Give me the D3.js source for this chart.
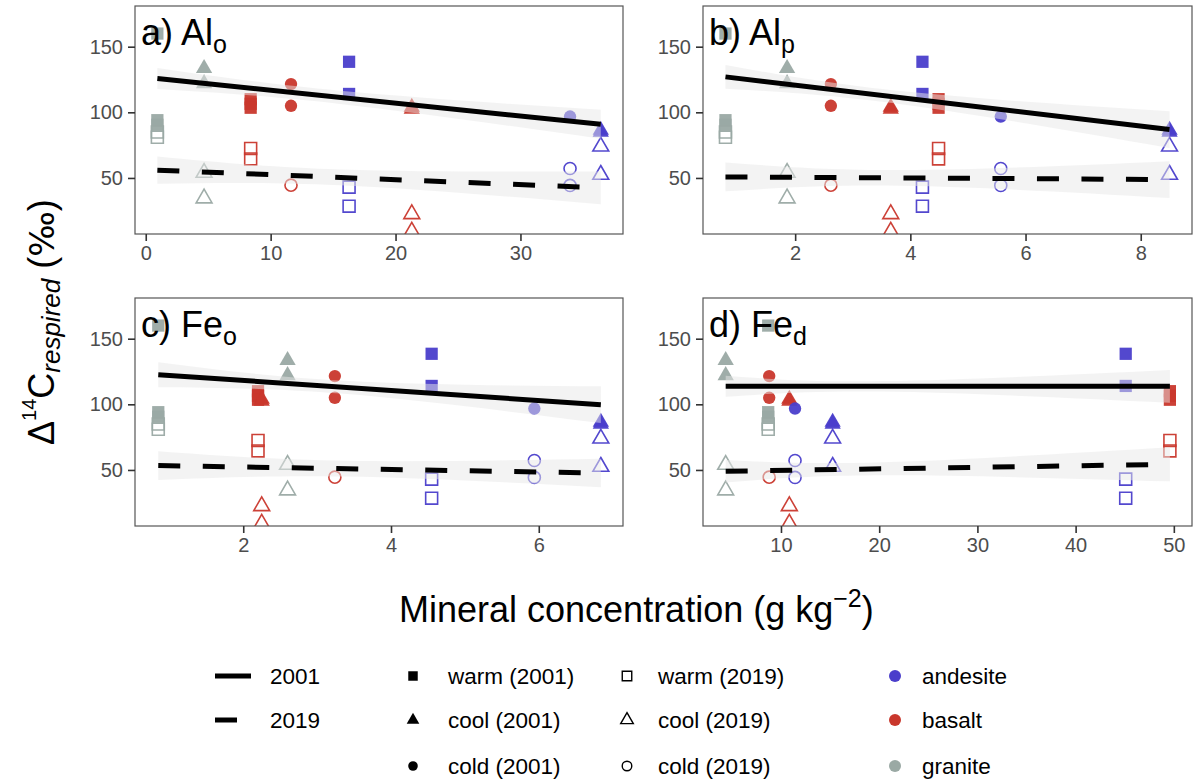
<!DOCTYPE html>
<html>
<head>
<meta charset="utf-8">
<script src="https://cdn.jsdelivr.net/npm/d3@7"></script>
<style>
  body { margin: 0; background: #fff; }
  text { font-family: "Liberation Sans", Arial, Helvetica, sans-serif; }
</style>
</head>
<body>
<div id="chart"></div>
<script>
// sites (rock x climate); one mineral concentration per site for each panel
var siteRock    = ["granite", "granite", "basalt", "basalt", "basalt", "andesite", "andesite", "andesite"];
var siteClimate = ["warm", "cool", "warm", "cool", "cold", "warm", "cool", "cold"];
var alo = [0.93, 4.67, 8.4, 21.3, 11.63, 16.28, 36.43, 33.97];
var alp = [0.79, 1.86, 4.49, 3.66, 2.62, 4.21, 8.5, 5.57];
var feo = [0.85, 2.6, 2.2, 2.25, 3.24, 4.55, 6.84, 5.94];
var fed = [8.7, 4.37, 49.6, 10.85, 8.8, 45.1, 15.26, 11.43];

// samples: site index, year, delta 14C respired
var sampleSite = [0, 0, 0, 0, 0,   1, 1, 1, 1,   2, 2, 2, 2, 2,   3, 3, 3, 3,   4, 4, 4,   5, 5, 5, 5,   6, 6, 6, 6,   7, 7, 7];
var sampleYear = [2001, 2001, 2001, 2019, 2019,   2001, 2001, 2019, 2019,   2001, 2001, 2001, 2019, 2019,
                  2001, 2001, 2019, 2019,   2001, 2001, 2019,   2001, 2001, 2019, 2019,
                  2001, 2001, 2019, 2019,   2001, 2019, 2019];
var sampleD14C = [160, 94, 90.5, 85, 81,   133.5, 122, 54, 34.5,   110, 106.5, 103.5, 72.5, 64.5,
                  104, 102.5, 22.5, 9.2,   121.5, 105, 44.5,   138.5, 114, 43, 28.5,
                  86.5, 85, 74, 52.5,   96.8, 57.2, 44.3];

// panels
var panelLetter = ["a)", "b)", "c)", "d)"];
var panelMain   = ["Al", "Al", "Fe", "Fe"];
var panelSub    = ["o", "p", "o", "d"];
var panelX      = [alo, alp, feo, fed];
var panelTicks  = [[0, 10, 20, 30], [2, 4, 6, 8], [2, 4, 6], [10, 20, 30, 40, 50]];
var panelDomain = [[-0.86, 38.21], [0.40, 8.89], [0.535, 7.14], [2.06, 51.85]];
var yTicks = [50, 100, 150];

// lm fits: line ends and ribbon half widths (start, centre, end)
var fit2001 = [[125.8, 90.9], [127, 86.9], [122.6, 99.7], [113.7, 113.7]];
var fit2019 = [[55.9, 42.5], [50.8, 48.8], [53.3, 47.7], [49, 54.3]];
var ci2001 = [[8, 5, 11], [9, 5, 14], [9.5, 5, 14], [8, 4, 12.5]];
var ci2019 = [[10.4, 6, 12.5], [11, 6, 14], [11, 6, 10.8], [8.6, 5, 13]];

// legend
var yearLabels = ["2001", "2019"];
var climates = ["warm", "cool", "cold"];
var rockLabels = ["andesite", "basalt", "granite"];

var rockColor = {andesite: "#4a3ecb", basalt: "#c9372c", granite: "#9aa9a4"};
var climateShape = {warm: d3.symbolSquare, cool: d3.symbolTriangle, cold: d3.symbolCircle};
var shapeSize = {warm: 150, cool: 115, cold: 120};

var svgWidth = 1198;
var svgHeight = 784;

var svg = d3.select("#chart")
  .append("svg")
  .attr("width", svgWidth)
  .attr("height", svgHeight);

var cols = [[135, 623], [703, 1192]];
var rows = [[6, 234], [298, 526]];

var samples = sampleSite.map(function(s, i) {
  return {site: s, year: sampleYear[i], y: sampleD14C[i],
          rock: siteRock[s], climate: siteClimate[s]};
});

panelX.forEach(function(xs, p) {
  var col = cols[p % 2];
  var row = rows[Math.floor(p / 2)];
  var x = d3.scaleLinear().domain(panelDomain[p]).range(col);
  var y = d3.scaleLinear().domain([7.3, 181]).range([row[1], row[0]]);

  var g = svg.append("g");
  var clipId = "clip" + p;
  g.append("clipPath").attr("id", clipId)
    .append("rect")
    .attr("x", col[0]).attr("y", row[0])
    .attr("width", col[1] - col[0]).attr("height", row[1] - row[0]);

  var plot = g.append("g").attr("clip-path", "url(#" + clipId + ")");

  // points
  plot.selectAll("path.pt")
    .data(samples)
    .enter()
    .append("path")
    .attr("class", "pt")
    .attr("transform", function(d) { return "translate(" + x(xs[d.site]) + "," + y(d.y) + ")"; })
    .attr("d", function(d) {
      var size = shapeSize[d.climate] * (d.year === 2019 ? 0.95 : 1);
      return d3.symbol().type(climateShape[d.climate]).size(size)();
    })
    .attr("fill", function(d) { return d.year === 2001 ? rockColor[d.rock] : "none"; })
    .attr("stroke", function(d) { return d.year === 2019 ? rockColor[d.rock] : "none"; })
    .attr("stroke-width", 1.6)
    .attr("opacity", 0.95);

  // smooth ribbons and lines
  var xExt = d3.extent(xs);
  var xMid = d3.mean(samples, function(d) { return xs[d.site]; });
  [[fit2001[p], ci2001[p], null], [fit2019[p], ci2019[p], "22,22.5"]].forEach(function(f) {
    var fit = f[0], ci = f[1];
    var line = d3.scaleLinear().domain(xExt).range(fit);
    var pts = [xExt[0], xMid, xExt[1]].map(function(v, i) {
      return {x: v, lo: line(v) - ci[i], hi: line(v) + ci[i]};
    });
    plot.append("path")
      .datum(pts)
      .attr("d", d3.area()
        .x(function(d) { return x(d.x); })
        .y0(function(d) { return y(d.lo); })
        .y1(function(d) { return y(d.hi); })
        .curve(d3.curveNatural))
      .attr("fill", "#e8e8e8")
      .attr("opacity", 0.5);
    plot.append("path")
      .datum(xExt)
      .attr("d", d3.line()
        .x(function(d) { return x(d); })
        .y(function(d) { return y(line(d)); }))
      .attr("fill", "none")
      .attr("stroke", "#000")
      .attr("stroke-width", 5)
      .attr("stroke-dasharray", f[2]);
  });

  // panel label
  var lab = g.append("text")
    .attr("x", col[0] + 6)
    .attr("y", row[0] + 39)
    .attr("font-size", 36)
    .attr("fill", "#000");
  lab.append("tspan").text(panelLetter[p] + " " + panelMain[p]);
  lab.append("tspan").attr("dy", 8).attr("font-size", 25).text(panelSub[p]);

  // border
  g.append("rect")
    .attr("x", col[0]).attr("y", row[0])
    .attr("width", col[1] - col[0]).attr("height", row[1] - row[0])
    .attr("fill", "none")
    .attr("stroke", "#555")
    .attr("stroke-width", 1.2);

  // axes
  var xAxis = g.append("g")
    .attr("transform", "translate(0," + row[1] + ")")
    .call(d3.axisBottom(x).tickValues(panelTicks[p]).tickFormat(d3.format("d")).tickSize(7).tickPadding(5));
  var yAxis = g.append("g")
    .attr("transform", "translate(" + col[0] + ",0)")
    .call(d3.axisLeft(y).tickValues(yTicks).tickFormat(d3.format("d")).tickSize(7).tickPadding(5));
  [xAxis, yAxis].forEach(function(a) {
    a.select(".domain").remove();
    a.selectAll("line").attr("stroke", "#333").attr("stroke-width", 1.6);
    a.selectAll("text").attr("font-size", 20).attr("fill", "#4d4d4d")
      .attr("font-family", "'Liberation Sans', Arial, sans-serif");
  });
});

// axis titles
var xTitle = svg.append("text")
  .attr("x", 399)
  .attr("y", 622)
  .attr("font-size", 36);
xTitle.append("tspan").text("Mineral concentration (g kg");
xTitle.append("tspan").attr("dy", -15).attr("font-size", 25).text("\u22122");
xTitle.append("tspan").attr("dy", 15).text(")");

var yTitle = svg.append("text")
  .attr("transform", "translate(54,445) rotate(-90)")
  .attr("font-size", 36);
yTitle.append("tspan").text("\u0394");
yTitle.append("tspan").attr("dy", -18).attr("font-size", 20).text("14");
yTitle.append("tspan").attr("dy", 18).text("C");
yTitle.append("tspan").attr("dy", 6).attr("font-size", 26).attr("font-style", "italic").text("respired");
yTitle.append("tspan").attr("dy", -6).text(" (");
yTitle.append("tspan").attr("font-family", "'DejaVu Sans', sans-serif").attr("font-size", 34).text("\u2030");
yTitle.append("tspan").text(")");

// legend
var legendRows = [676, 720, 766];
var legendFont = 22.5;

yearLabels.forEach(function(lbl, i) {
  svg.append("line")
    .attr("x1", 215).attr("x2", i === 0 ? 251 : 237)
    .attr("y1", legendRows[i]).attr("y2", legendRows[i])
    .attr("stroke", "#000").attr("stroke-width", 5);
  svg.append("text")
    .attr("x", 270).attr("y", legendRows[i] + 8)
    .attr("font-size", legendFont).text(lbl);
});

climates.forEach(function(c, i) {
  [2001, 2019].forEach(function(yr, j) {
    var sx = j === 0 ? 413 : 627;
    svg.append("path")
      .attr("transform", "translate(" + sx + "," + legendRows[i] + ")")
      .attr("d", d3.symbol().type(climateShape[c]).size(shapeSize[c] * 0.6)())
      .attr("fill", yr === 2001 ? "#000" : "none")
      .attr("stroke", yr === 2019 ? "#000" : "none")
      .attr("stroke-width", 1.4);
    svg.append("text")
      .attr("x", sx + (j === 0 ? 35 : 31)).attr("y", legendRows[i] + 8)
      .attr("font-size", legendFont)
      .text(c + " (" + yr + ")");
  });
});

rockLabels.forEach(function(r, i) {
  svg.append("circle")
    .attr("cx", 895).attr("cy", legendRows[i]).attr("r", 6)
    .attr("fill", rockColor[r]);
  svg.append("text")
    .attr("x", 922).attr("y", legendRows[i] + 8)
    .attr("font-size", legendFont).text(r);
});
</script>
</body>
</html>
